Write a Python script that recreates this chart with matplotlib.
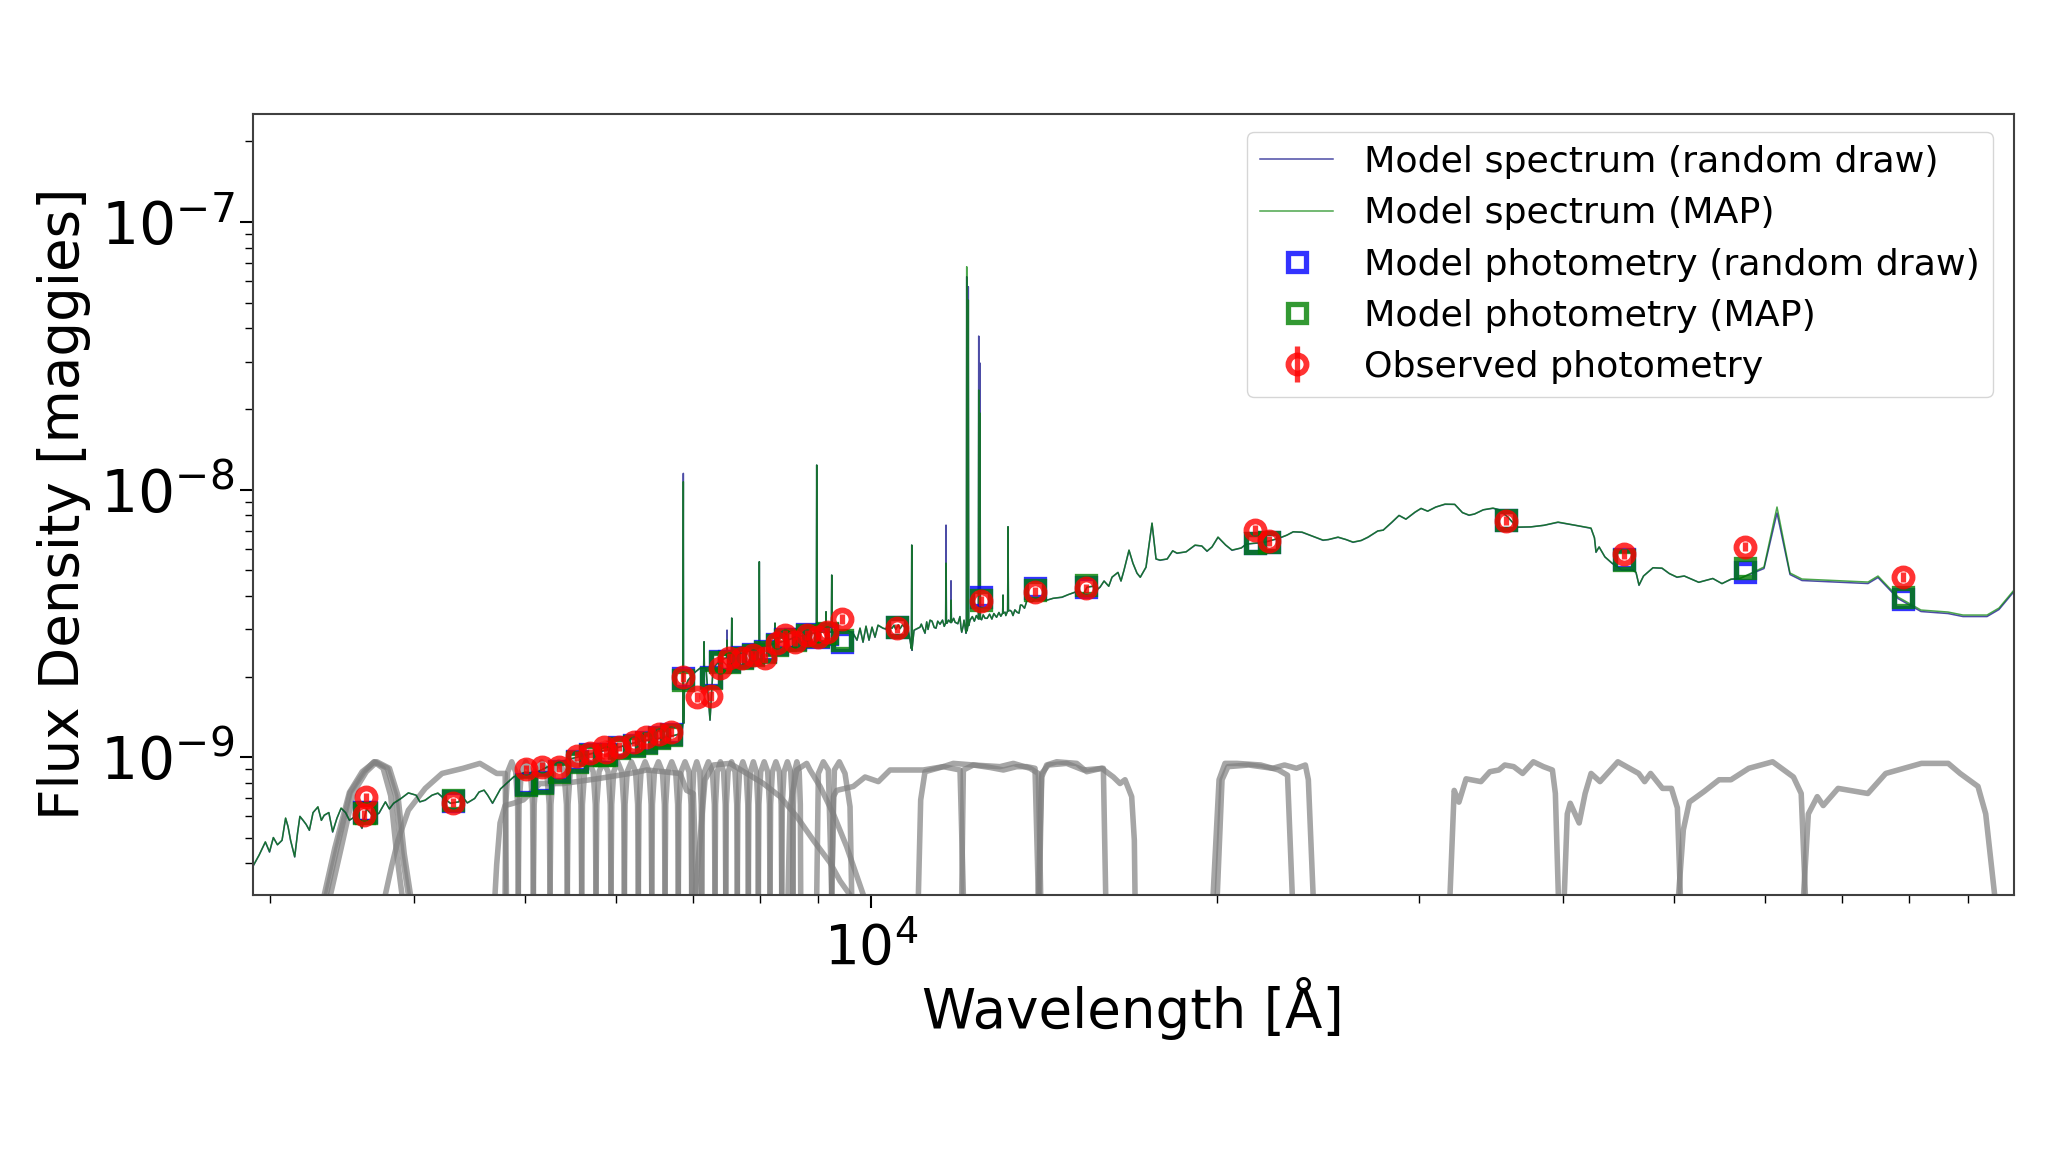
import matplotlib

matplotlib.use("Agg")
import matplotlib.pyplot as plt
import numpy as np
from matplotlib.ticker import LogLocator, NullFormatter

# model spectra, flux in units of 1e-9 maggies
SPEC_WAVE = [
    2897, 2972, 2997, 3073, 3095, 3126, 3152, 3205, 3246, 3302, 3344, 3401, 3459, 3517, 3607, 3732, 3843, 3958, 4094, 4199, 4306, 4454, 4606, 4685,
    4887, 5000, 5097, 5310, 5546, 5776, 6034, 6295, 6565, 6753, 6847, 6860, 6866, 6869, 6871, 6882, 6931, 7029, 7099, 7151, 7157, 7162, 7185, 7243, 7287,
    7390, 7488, 7494, 7500, 7559, 7565, 7571, 7769, 7989, 7990, 7995, 8001, 8244, 8250, 8257, 8334, 8674, 8957, 8962, 8969, 8976, 9131, 9138, 9145, 9211,
    9235, 9243, 9250, 9531, 9646, 9723, 9782, 9841, 9900, 9960, 10020, 10080, 10141, 10243, 10388, 10705, 10813, 10841, 10850, 10856, 10858, 10900,
    11031, 11142, 11255, 11391, 11482, 11612, 11621, 11631, 11645, 11729, 11738, 11748, 11833, 11976, 11993, 12048, 12096, 12104, 12113, 12123, 12142,
    12152, 12162, 12194, 12398, 12408, 12418, 12430, 12440, 12450, 12566, 12820, 13017, 13027, 13027, 13037, 13148, 13158, 13169, 13211, 13397, 13532,
    13669, 14029, 14661, 15048, 15414, 15821, 16206, 16600, 16767, 17038, 17348, 17558, 17842, 18460, 19138, 19603, 20040, 20610, 21582, 22645, 23713,
    24731, 25486, 26263, 27064, 28397, 29737, 31578, 33134, 34766, 36478, 39601, 42307, 42733, 44125, 46021, 46577, 48774, 50261, 56004, 59831, 61410,
    63030, 64564, 73690, 75181, 78255, 81945, 86499, 89138, 93528, 95804, 98726,
]
SPEC_MAP = [
    0.389, 0.482, 0.443, 0.489, 0.592, 0.489, 0.424, 0.581, 0.533, 0.652, 0.607, 0.526, 0.645, 0.581, 0.543, 0.618, 0.673, 0.735, 0.691, 0.734,
    0.673, 0.675, 0.753, 0.673, 0.844, 0.879, 0.871, 0.950, 1.000, 1.044, 1.090, 1.148, 1.178, 1.208, 1.229, 1.336, 10.694, 1.352, 1.336, 1.780,
    1.940, 2.079, 2.151, 2.151, 2.698, 2.151, 2.151, 1.375, 2.151, 2.305, 2.350, 2.738, 2.350, 2.380, 3.308, 2.380, 2.469, 2.557, 2.556, 5.371, 2.557,
    2.658, 3.169, 2.658, 2.691, 2.834, 2.933, 2.933, 12.348, 2.933, 2.933, 3.493, 2.933, 2.933, 2.938, 4.790, 2.938, 2.984, 2.908, 2.738, 3.036,
    2.691, 3.088, 2.738, 3.062, 2.809, 3.115, 3.036, 3.062, 3.062, 2.738, 2.545, 6.202, 2.512, 2.545, 2.984, 3.062, 2.908, 3.252, 3.036, 3.142, 3.165,
    5.312, 3.165, 3.169, 3.183, 3.863, 3.183, 3.196, 3.036, 2.933, 3.252, 2.908, 2.965, 68.061, 2.965, 3.101, 51.099, 3.101, 3.252, 3.285, 23.548,
    3.285, 3.290, 19.319, 3.290, 3.308, 3.395, 3.454, 4.033, 3.454, 3.454, 3.518, 7.260, 3.518, 3.534, 3.484, 3.700, 3.863, 3.863, 3.964, 4.138,
    4.320, 4.320, 4.709, 5.001, 5.941, 4.874, 5.132, 7.495, 5.451, 5.789, 6.202, 5.890, 6.644, 5.941, 6.310, 6.587, 6.936, 6.475, 6.644, 6.364, 6.644,
    7.560, 8.239, 8.827, 8.029, 8.528, 7.241, 7.560, 7.179, 5.839, 5.312, 5.001, 4.395, 5.088, 4.709, 4.628, 5.132, 8.602, 4.874, 4.628, 4.510, 4.749,
    3.964, 3.544, 3.484, 3.395, 3.395, 3.606, 4.210,
]
SPEC_RANDOM = [
    0.388, 0.481, 0.441, 0.488, 0.590, 0.488, 0.423, 0.580, 0.532, 0.650, 0.605, 0.524, 0.643, 0.580, 0.541, 0.616, 0.671, 0.734, 0.689, 0.732,
    0.671, 0.673, 0.751, 0.671, 0.842, 0.877, 0.869, 0.947, 0.997, 1.041, 1.087, 1.145, 1.175, 1.205, 1.226, 1.336, 11.496, 1.348, 1.336, 1.776,
    1.935, 2.073, 2.146, 2.151, 2.698, 2.151, 2.146, 1.372, 2.146, 2.299, 2.350, 2.984, 2.350, 2.380, 3.308, 2.380, 2.463, 2.557, 2.549, 5.371, 2.557,
    2.658, 3.169, 2.658, 2.684, 2.826, 2.925, 2.933, 12.348, 2.933, 2.933, 3.493, 2.933, 2.925, 2.938, 4.790, 2.938, 2.976, 2.900, 2.731, 3.028,
    2.684, 3.080, 2.731, 3.054, 2.802, 3.107, 3.028, 3.054, 3.054, 2.731, 2.545, 6.202, 2.505, 2.545, 2.976, 3.054, 2.900, 3.244, 3.028, 3.134, 3.165,
    7.367, 3.165, 3.161, 3.183, 4.561, 3.183, 3.188, 3.028, 2.925, 3.244, 2.900, 2.965, 62.447, 2.965, 3.101, 57.297, 3.101, 3.244, 3.285, 37.483,
    3.285, 3.290, 29.710, 3.290, 3.300, 3.386, 3.454, 4.033, 3.445, 3.454, 3.518, 7.260, 3.518, 3.535, 3.475, 3.691, 3.853, 3.853, 3.954, 4.128,
    4.309, 4.309, 4.697, 4.988, 5.925, 4.861, 5.119, 7.476, 5.437, 5.774, 6.186, 5.875, 6.627, 5.925, 6.293, 6.570, 6.918, 6.458, 6.627, 6.348, 6.627,
    7.540, 8.218, 8.804, 8.009, 8.506, 7.223, 7.540, 7.161, 5.824, 5.298, 4.988, 4.384, 5.075, 4.697, 4.616, 5.066, 8.169, 4.811, 4.569, 4.452, 4.688,
    3.913, 3.499, 3.439, 3.351, 3.351, 3.560, 4.156,
]

# finer absorption-feature wiggles, common to both spectra
WIGGLE_WAVE = [
    2935, 3020, 3045, 3110, 3170, 3185, 3225, 3270, 3325, 3375, 3430, 3490, 3560, 3640, 3690, 3780, 3810, 3900, 4020, 4050, 4150, 4250, 4380, 4400, 4520, 4560, 4640, 4760,
    10300, 10340, 10430, 10470, 10510, 10560, 10600, 10650, 10760, 11060, 11100, 11180, 11210, 11300, 11350, 11430, 11540, 11580, 11680, 11800, 11900, 11950, 12030,
    12250, 12300, 12350, 12480, 12520, 12620, 12680, 12740, 12790, 12860, 12920, 12970, 13080, 13100, 13250, 13290, 13340, 13450, 13490, 13600,
    13800, 13900, 14200, 14400, 14850, 15200, 15300, 15600, 15700, 15950, 16100, 16400, 16500, 16900, 17150, 17700, 18100, 18300, 18800, 19400, 19800,
    20350, 21000, 21200, 22000, 23000, 23300, 24200, 25000, 25900, 26700, 27600, 27900, 28800, 29200, 30100, 30500, 31000, 32200, 32700, 33500, 34100, 35200, 35800, 37500, 38500,
    41000, 42600, 43000, 43500, 45000, 46300, 47000, 47900, 49500, 51000, 52500, 54000, 55000, 57000,
]
WIGGLE_FLUX = [
    0.43, 0.50, 0.47, 0.55, 0.52, 0.60, 0.56, 0.62, 0.58, 0.62, 0.59, 0.62, 0.60, 0.64, 0.60, 0.68, 0.64, 0.70, 0.72, 0.68, 0.72, 0.70, 0.68, 0.72, 0.70, 0.74, 0.72, 0.76,
    3.01, 3.10, 3.03, 3.11, 3.00, 3.12, 3.02, 3.12, 3.08, 3.14, 3.02, 3.20, 3.00, 3.22, 3.05, 3.22, 3.25, 3.08, 3.25, 3.30, 3.15, 3.35, 3.10,
    3.35, 3.22, 3.38, 3.26, 3.40, 3.30, 3.42, 3.28, 3.44, 3.33, 3.47, 3.36, 3.48, 3.38, 3.50, 3.38, 3.55, 3.45, 3.70, 3.60,
    3.80, 3.90, 3.85, 3.92, 4.05, 4.15, 4.05, 4.35, 4.20, 4.55, 4.35, 4.90, 4.55, 5.30, 4.70, 5.50, 5.50, 5.90, 5.85, 6.15, 6.10,
    6.20, 6.05, 6.25, 6.35, 6.75, 6.95, 6.70, 6.50, 6.50, 6.45, 7.00, 7.05, 8.00, 7.75, 8.50, 8.30, 8.60, 8.80, 8.20, 8.10, 8.40, 8.40, 7.90, 7.25, 7.35,
    7.35, 6.60, 6.10, 5.60, 5.00, 4.90, 4.75, 5.10, 4.85, 4.75, 4.50, 4.65, 4.45, 4.65,
]

# photometry, same units
PHOT_WAVE = [
    3623, 3638, 4324, 5012, 5175, 5352, 5546, 5695, 5857, 5881, 6034, 6214, 6372, 6537, 6704, 6866, 7053, 7253, 7390, 7529,
    7718, 7895, 8087, 8279, 8417, 8588, 8791, 8993, 9151, 9441, 10528, 12458, 13889, 15374, 21573, 22173, 35683, 45235, 57597, 79042,
]
PHOT_OBS = [
    0.607, 0.707, 0.675, 0.900, 0.920, 0.915, 1.009, 1.032, 1.093, 1.044, 1.093, 1.141, 1.191, 1.219, 1.240, 1.991, 1.680, 1.691, 2.151, 2.345,
    2.345, 2.406, 2.345, 2.668, 2.858, 2.698, 2.858, 2.817, 2.940, 3.280, 3.028, 3.830, 4.149, 4.272, 7.057, 6.419, 7.645, 5.740, 6.112, 4.709,
]
MODEL_WAVE = [
    3623, 3638, 4324, 5012, 5175, 5352, 5546, 5695, 5857, 5881, 6034, 6214, 6372, 6537, 6704, 6866, 7253, 7390, 7529,
    7718, 7895, 8087, 8279, 8417, 8588, 8791, 8993, 9151, 9441, 10528, 12458, 13889, 15374, 21573, 22173, 35683, 45235, 57597, 79042,
]
PHOT_MAP = [
    0.618, 0.618, 0.691, 0.786, 0.799, 0.881, 0.960, 1.017, 1.017, 1.017, 1.081, 1.099, 1.128, 1.178, 1.208, 1.940, 1.974, 2.265, 2.265,
    2.345, 2.406, 2.469, 2.622, 2.738, 2.738, 2.858, 2.834, 2.908, 2.738, 3.054, 3.863, 4.210, 4.395, 6.293, 6.381, 7.691, 5.451, 5.088, 3.964,
]
PHOT_RANDOM = [
    0.623, 0.623, 0.685, 0.793, 0.806, 0.886, 0.966, 1.026, 1.026, 1.026, 1.090, 1.109, 1.138, 1.188, 1.219, 1.974, 1.991, 2.285, 2.285,
    2.365, 2.427, 2.490, 2.645, 2.761, 2.761, 2.883, 2.809, 2.883, 2.691, 3.062, 3.964, 4.272, 4.331, 6.310, 6.392, 7.691, 5.498, 4.928, 3.896,
]

# filter curves: wavelength, normalised transmission
U_TRANS = [0, 0.23, 0.66, 0.88, 1, 0.92, 0.63, 0.2, 0]
U1_WAVE = [3344, 3415, 3517, 3608, 3700, 3795, 3859, 3908, 3958]
U2_WAVE = [3358, 3430, 3523, 3623, 3694, 3763, 3820, 3866, 3908]
U3_WAVE = [3386, 3459, 3547, 3638, 3716, 3811, 3876, 3925, 3975]
G_WAVE = [3779, 3827, 3876, 3958, 4094, 4234, 4417, 4568, 4725, 4805, 4817]
G_TRANS = [0, 0.13, 0.28, 0.50, 0.70, 0.86, 0.92, 0.98, 0.86, 0.86, 0]
R_WAVE = [4708, 4724, 4756, 4804, 4885, 4983, 5153, 5399, 5772, 6171, 6380, 6821, 6912, 7005, 7052]
R_TRANS = [0, 0.14, 0.40, 0.54, 0.56, 0.59, 0.75, 0.75, 0.80, 0.86, 0.90, 0.86, 0.68, 0.65, 0]
I_WAVE = [7029, 7099, 7171, 7292, 7539, 7795, 8060, 8334, 8616, 8909, 9211, 9398, 9588]
I_TRANS = [0, 0.28, 0.79, 0.96, 0.98, 0.86, 0.75, 0.62, 0.45, 0.28, 0.15, 0.06, 0]
Z_WAVE = [8468, 8502, 8616, 8791, 8850, 9029, 9273, 9524, 9848]
Z_TRANS = [0, 0.53, 0.90, 0.98, 0.90, 0.72, 0.47, 0.24, 0]
M1_WAVE = [8969, 8999, 9089, 9181, 9242]
M1_TRANS = [0, 0.86, 1, 0.90, 0]
M2_WAVE = [9242, 9292, 9385, 9492, 9588, 9620]
M2_TRANS = [0, 0.90, 1, 0.86, 0.53, 0]
Y_WAVE = [9242, 9273, 9335, 9652, 9881, 10148, 10388, 10885, 11105, 11559, 11952, 12032]
Y_TRANS = [0, 0.62, 0.68, 0.72, 0.82, 0.77, 0.90, 0.90, 0.90, 0.94, 0.90, 0]
J1_WAVE = [10995, 11046, 11142, 11559, 11793, 12275, 12949, 13299, 13751, 13982, 14048]
J1_TRANS = [0, 0.59, 0.88, 0.94, 0.98, 0.96, 0.94, 0.98, 0.92, 0.86, 0]
J2_WAVE = [11992, 12032, 12275, 12692, 13036, 13389, 13659, 13889, 13982]
J2_TRANS = [0, 0.90, 0.96, 0.93, 0.90, 0.94, 0.94, 0.92, 0]
H1_WAVE = [13982, 14076, 14265, 14799, 15302, 15927, 16002]
H1_TRANS = [0, 0.86, 0.96, 0.98, 0.90, 0.92, 0]
H2_WAVE = [14010, 14076, 14218, 14506, 15099, 15404, 15874, 16249, 16468, 16634, 16857, 16947, 16970]
H2_TRANS = [0, 0.82, 0.96, 1.00, 0.98, 0.88, 0.92, 0.82, 0.75, 0.79, 0.62, 0.28, 0]
K1_WAVE = [19844, 20082, 20323, 20813, 21830, 22625, 23034, 23254]
K1_TRANS = [0, 0.79, 0.98, 0.98, 0.96, 0.90, 0.84, 0]
K2_WAVE = [20010, 20202, 20444, 21316, 22357, 22897, 23449, 23873, 24015, 24246]
K2_TRANS = [0, 0.79, 0.94, 0.96, 0.92, 0.96, 0.92, 0.96, 0.79, 0]
C1_WAVE = [31896, 32164, 32472, 32940, 33937, 34549, 35173, 35595, 36237, 36891, 37691, 38463, 39157, 39392, 39627]
C1_TRANS = [0, 0.68, 0.57, 0.80, 0.77, 0.88, 0.90, 0.96, 0.94, 0.86, 1.00, 0.94, 0.90, 0.65, 0]
C2_WAVE = [40103, 40342, 40584, 41316, 41812, 42313, 43077, 44646, 46548, 47107, 47672, 48823, 49704, 50300, 50601]
C2_TRANS = [0, 0.47, 0.56, 0.40, 0.65, 0.86, 0.77, 1.00, 0.86, 0.77, 0.86, 0.70, 0.70, 0.52, 0]
C3_WAVE = [50420, 50903, 51514, 53073, 54679, 55998, 58038, 60873, 63467, 64459, 64999]
C3_TRANS = [0, 0.35, 0.57, 0.67, 0.79, 0.79, 0.92, 1.00, 0.82, 0.65, 0]
C4_WAVE = [64767, 65388, 66568, 67367, 69405, 73669, 76352, 82015, 86536, 88625, 91852, 93287, 94971]
C4_TRANS = [0, 0.47, 0.62, 0.54, 0.70, 0.65, 0.86, 0.98, 0.98, 0.86, 0.72, 0.47, 0]

# medium bands sit edge to edge and share one shape
MEDIUM_EDGES = [4804, 4933, 5084, 5257, 5442, 5601, 5764, 5940, 6101, 6274, 6445, 6619, 6797, 6982, 7124, 7316, 7475, 7650, 7821, 7979, 8168, 8362, 8553, 8686]
MEDIUM_POS = [0, 0.05, 0.2, 0.5, 0.8, 0.95, 1]
MEDIUM_TRANS = [0, 0.55, 0.88, 1, 0.88, 0.55, 0]

FILTERS = [
    (U1_WAVE, U_TRANS), (U2_WAVE, U_TRANS), (U3_WAVE, U_TRANS), (G_WAVE, G_TRANS),
    (R_WAVE, R_TRANS), (I_WAVE, I_TRANS), (Z_WAVE, Z_TRANS), (M1_WAVE, M1_TRANS),
    (M2_WAVE, M2_TRANS), (Y_WAVE, Y_TRANS), (J1_WAVE, J1_TRANS), (J2_WAVE, J2_TRANS),
    (H1_WAVE, H1_TRANS), (H2_WAVE, H2_TRANS), (K1_WAVE, K1_TRANS), (K2_WAVE, K2_TRANS),
    (C1_WAVE, C1_TRANS), (C2_WAVE, C2_TRANS), (C3_WAVE, C3_TRANS), (C4_WAVE, C4_TRANS),
]

XLIM = (2897, 98726)
YLIM = (3.05e-10, 2.545e-7)
FILTER_HEIGHT = 6.55e-10


def plot_filter(ax, wave, trans):
    # transmission is scaled linearly above the bottom of the axis
    ax.loglog(wave, YLIM[0] + np.array(trans) * FILTER_HEIGHT, lw=4.0, color="gray", alpha=0.7)


def merged_spectrum(flux):
    wave = np.concatenate([SPEC_WAVE, WIGGLE_WAVE])
    values = np.concatenate([flux, WIGGLE_FLUX])
    order = np.argsort(wave, kind="stable")
    return wave[order], values[order] * 1e-9


fig = plt.figure(figsize=(20.48, 11.52), dpi=100)
ax = fig.add_axes([252.6 / 2048, 1 - 895 / 1152, (2014 - 252.6) / 2048, (895 - 113.5) / 1152])

for wave, trans in FILTERS:
    plot_filter(ax, wave, trans)
for lo, hi in zip(MEDIUM_EDGES[:-1], MEDIUM_EDGES[1:]):
    plot_filter(ax, lo + np.array(MEDIUM_POS) * (hi - lo), MEDIUM_TRANS)

obs = np.array(PHOT_OBS) * 1e-9

ax.loglog(*merged_spectrum(SPEC_RANDOM), color="navy", lw=1.1, alpha=0.7, label="Model spectrum (random draw)")
ax.loglog(*merged_spectrum(SPEC_MAP), color="green", lw=1.1, alpha=0.7, label="Model spectrum (MAP)")
ax.plot(MODEL_WAVE, np.array(PHOT_RANDOM) * 1e-9, ls="", marker="s", ms=12.7, mfc="none", mec="blue", mew=3.8, alpha=0.8, label="Model photometry (random draw)")
ax.plot(MODEL_WAVE, np.array(PHOT_MAP) * 1e-9, ls="", marker="s", ms=12.7, mfc="none", mec="green", mew=3.8, alpha=0.8, label="Model photometry (MAP)")
ax.errorbar(PHOT_WAVE, obs, yerr=obs * 0.04, ls="", marker="o", ms=13, mfc="none", mec="red", mew=4.2, ecolor="red", lw=3.8, alpha=0.8, label="Observed photometry")

ax.set_xlim(XLIM)
ax.set_ylim(YLIM)
ax.set_xticks([1e4])
ax.set_yticks([1e-9, 1e-8, 1e-7])
ax.set_xlabel("Wavelength [Å]", fontsize=39.4, labelpad=1)
ax.set_ylabel("Flux Density [maggies]", fontsize=39.4)
ax.yaxis.set_label_coords(-0.092, 0.5)
ax.tick_params(which="major", length=9.5, width=1.5)
ax.tick_params(axis="x", which="major", labelsize=39.4, pad=10)
ax.tick_params(axis="y", which="major", labelsize=42)
ax.tick_params(which="minor", length=5.5, width=1.0)
ax.xaxis.set_minor_locator(LogLocator(base=10, subs=np.arange(2, 10), numticks=20))
ax.xaxis.set_minor_formatter(NullFormatter())
ax.yaxis.set_minor_locator(LogLocator(base=10, subs=np.arange(2, 10), numticks=20))
ax.yaxis.set_minor_formatter(NullFormatter())
for spine in ax.spines.values():
    spine.set_linewidth(1.5)
    spine.set_color("#404040")

ax.legend(fontsize=26.2, loc="upper right", bbox_to_anchor=(0.9985, 1), labelspacing=0.472, borderpad=0.37, handletextpad=0.85)

fig.savefig("out.png", dpi=100)
